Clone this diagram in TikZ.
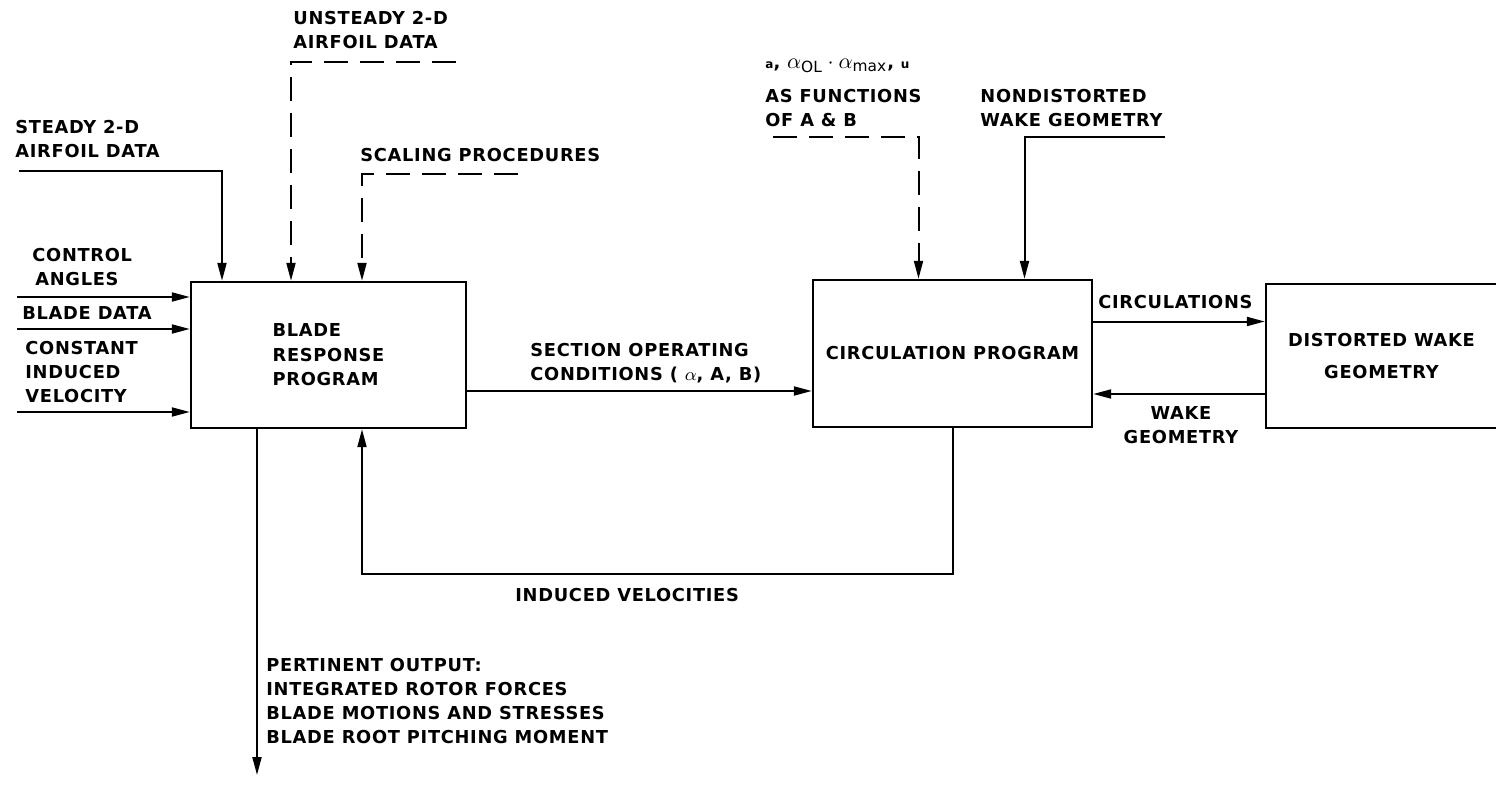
\documentclass[tikz,border=0pt]{standalone}
\usepackage{fontspec}
\setmainfont{DejaVu Sans}[LetterSpace=4]
\usetikzlibrary{arrows.meta}

\tikzset{
  lab/.style={inner sep=0pt, anchor=north west, align=left, font=\bfseries\fontsize{8.9}{12}\selectfont},
  blk/.style={draw, line width=1.2pt, inner sep=0pt, font=\bfseries\fontsize{8.9}{12.2}\selectfont},
  flow/.style={line width=1pt, -{Triangle[length=9pt,width=4.5pt]}},
  flowd/.style={flow, dash pattern=on 12pt off 6pt},
}

\begin{document}
\begin{tikzpicture}[x=0.5pt,y=-0.5pt]
  \useasboundingbox (0,0) rectangle (1496,792);
  % program blocks
  \node[blk, minimum width=137.5pt, minimum height=73pt, align=left] (blade) at (328.5,355) {BLADE\\RESPONSE\\PROGRAM};
  \node[blk, minimum width=139.5pt, minimum height=73.5pt] (circ) at (952.5,353.5) {CIRCULATION PROGRAM};
  \node[blk, minimum width=115.5pt, minimum height=72pt, align=center] (dwake) at (1381.5,356) {DISTORTED WAKE\\[4pt]GEOMETRY};

  % labels
  \node[lab] (unsteady) at (293,11) {UNSTEADY 2-D\\AIRFOIL DATA};
  \node[lab] (steady) at (15,120) {STEADY 2-D\\AIRFOIL DATA};
  \node[lab] (scaling) at (360,148) {SCALING PROCEDURES};
  \node[lab] (control) at (32,248) {CONTROL\\\hspace*{1.5pt}ANGLES};
  \node[lab] (bladedata) at (22,306) {BLADE DATA};
  \node[lab] (constant) at (25,341) {CONSTANT\\INDUCED\\VELOCITY};
  \node[lab] (section) at (530,343) {SECTION OPERATING\\CONDITIONS ( $\alpha$, A, B)};
  \node[lab] (alphas) at (765,58) {{\fontsize{6}{7}\selectfont a}, {\fontsize{11}{12}\selectfont$\alpha_{\mathrm{OL}}\cdot\alpha_{\mathrm{max}}$}, {\fontsize{6}{7}\selectfont u}};
  \node[lab] (asfun) at (765,89) {AS FUNCTIONS\\OF A \& B};
  \node[lab] (nondist) at (980,89) {NONDISTORTED\\WAKE GEOMETRY};
  \node[lab] (circlab) at (1098,295) {CIRCULATIONS};
  \node[lab, anchor=north, align=center] (wakelab) at (1181,406) {WAKE\\GEOMETRY};
  \node[lab] (induced) at (515,588) {INDUCED VELOCITIES};
  \node[lab] (pertinent) at (266,658) {PERTINENT OUTPUT:\\INTEGRATED ROTOR FORCES\\BLADE MOTIONS AND STRESSES\\BLADE ROOT PITCHING MOMENT};

  % free ends
  \coordinate (steadyin) at (19,171);
  \coordinate (unsteadyin) at (456,62);
  \coordinate (scalingin) at (518,174);
  \coordinate (controlin) at (17,297);
  \coordinate (bladedatain) at (17,329);
  \coordinate (constantin) at (17,412);
  \coordinate (alphasin) at (773,137);
  \coordinate (nondistin) at (1165,137);
  \coordinate (outend) at (257,775);

  % inputs to blade response
  \draw[flow] (steadyin) -| ([xshift=-53.25pt]blade.north);
  \draw[flowd] (unsteadyin) -| ([xshift=-18.75pt]blade.north);
  \draw[flowd] (scalingin) -| ([xshift=16.75pt]blade.north);
  \draw[flow] (controlin) -- (controlin -| blade.west);
  \draw[flow] (bladedatain) -- (bladedatain -| blade.west);
  \draw[flow] (constantin) -- (constantin -| blade.west);

  % inputs to circulation
  \draw[flowd] (alphasin) -| ([xshift=-17pt]circ.north);
  \draw[flow] (nondistin) -| ([xshift=36pt]circ.north);

  % loops
  \draw[flow] ([yshift=-18pt]blade.east) coordinate (s0) -- (s0 -| circ.west);
  \draw[flow] ([yshift=16pt]circ.east) coordinate (c0) -- (c0 -| dwake.west);
  \draw[flow] ([yshift=-19pt]dwake.west) coordinate (w0) -- (w0 -| circ.east);
  \draw[flow] (circ.south) -- ++(0,146) -| ([xshift=16.75pt]blade.south);
  \draw[flow] ([xshift=-35.75pt]blade.south) -- (outend);
\end{tikzpicture}
\end{document}
